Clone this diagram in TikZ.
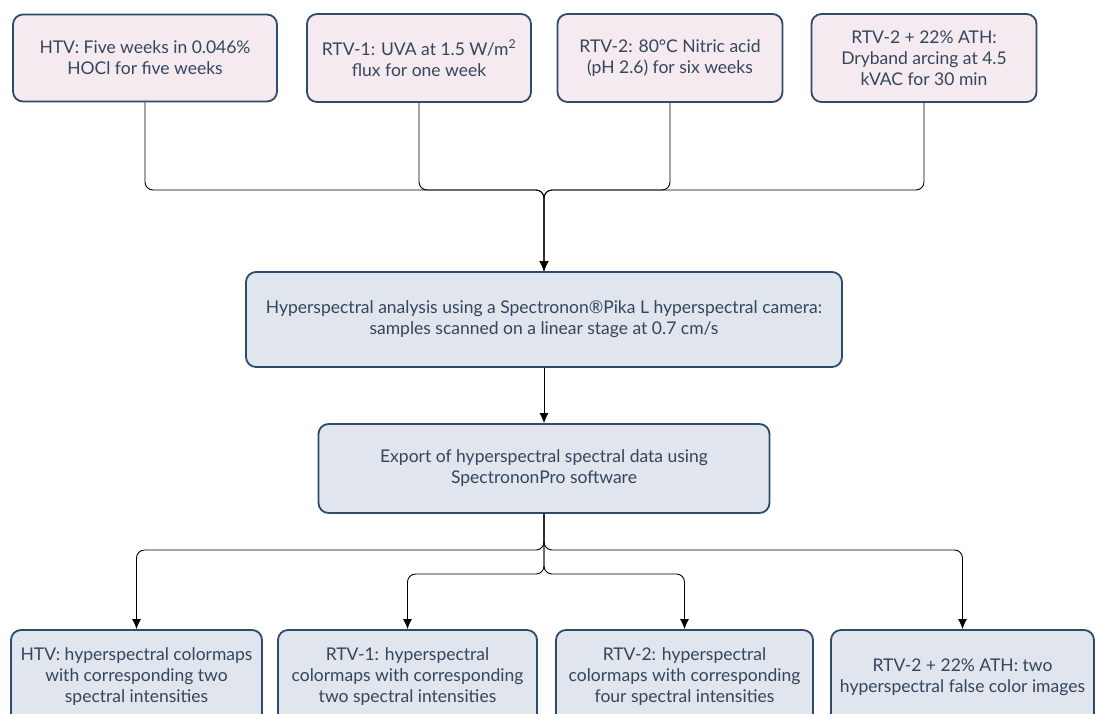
\documentclass[tikz,border=0pt]{standalone}
\usepackage{fontspec}
\setmainfont{Lato}
\usetikzlibrary{arrows.meta}

\definecolor{boxline}{HTML}{2E4B6B}
\definecolor{pinkfill}{HTML}{F4EAF0}
\definecolor{greyfill}{HTML}{E0E5EE}
\definecolor{boxtext}{HTML}{34465B}
\newcommand{\flowfont}{\fontsize{17.5}{21}\selectfont}

\begin{document}
\begin{tikzpicture}[x=1pt, y=-1pt,
    treatment/.style = {rectangle, rounded corners=10pt, draw=boxline, line width=1.8pt,
                        fill=pinkfill, text=boxtext, align=center, font=\flowfont, inner sep=0pt},
    analysis/.style = {treatment, fill=greyfill},
    link/.style = {draw=black, line width=0.9pt, rounded corners=8pt},
    arrow/.style = {link, -{Latex[length=10pt, width=9pt]}}]
   \clip (0,0) rectangle (1095,713);

   % ageing treatments
   \node[treatment, minimum width=264pt, minimum height=87pt] (T1) at (145,58)
        {HTV: Five weeks in 0.046\%\\HOCl for five weeks};
   \node[treatment, minimum width=224pt, minimum height=88pt] (T2) at (419,58)
        {RTV-1: UVA at 1.5 W/m\textsuperscript{2}\\flux for one week};
   \node[treatment, minimum width=225pt, minimum height=88pt] (T3) at (670,58)
        {RTV-2: 80°C Nitric acid\\(pH 2.6) for six weeks};
   \node[treatment, minimum width=225pt, minimum height=88pt] (T4) at (924,58)
        {RTV-2 + 22\% ATH:\\Dryband arcing at 4.5\\kVAC for 30 min};

   % analysis
   \node[analysis, minimum width=596pt, minimum height=95pt] (P1) at (544,319.5)
        {Hyperspectral analysis using a Spectronon®Pika L hyperspectral camera:\\samples scanned on a linear stage at 0.7 cm/s};
   \node[analysis, minimum width=451pt, minimum height=89pt] (P2) at (544,468.5)
        {Export of hyperspectral spectral data using\\SpectrononPro software};

   % results
   \node[analysis, minimum width=251pt, minimum height=94pt] (R1) at (136.5,677)
        {HTV: hyperspectral colormaps\\with corresponding two\\spectral intensities};
   \node[analysis, minimum width=259pt, minimum height=94pt] (R2) at (407.5,677)
        {RTV-1: hyperspectral\\colormaps with corresponding\\two spectral intensities};
   \node[analysis, minimum width=257pt, minimum height=94pt] (R3) at (684.5,677)
        {RTV-2: hyperspectral\\colormaps with corresponding\\four spectral intensities};
   \node[analysis, minimum width=263pt, minimum height=94pt] (R4) at (962.5,677)
        {RTV-2 + 22\% ATH: two\\hyperspectral false color images};

   \coordinate (merge) at (544,190);
   \coordinate (splitA) at (544,550);
   \coordinate (splitB) at (544,574);

   \draw[arrow] (T1.south) |- (merge) -- (P1.north);
   \draw[arrow] (T2.south) |- (merge) -- (P1.north);
   \draw[arrow] (T3.south) |- (merge) -- (P1.north);
   \draw[arrow] (T4.south) |- (merge) -- (P1.north);

   \draw[arrow] (P1.south) -- (P2.north);

   \draw[arrow] (P2.south) -- (splitA) -| (R1.north);
   \draw[arrow] (P2.south) -- (splitB) -| (R2.north);
   \draw[arrow] (P2.south) -- (splitB) -| (R3.north);
   \draw[arrow] (P2.south) -- (splitA) -| (R4.north);

 \end{tikzpicture}
\end{document}
